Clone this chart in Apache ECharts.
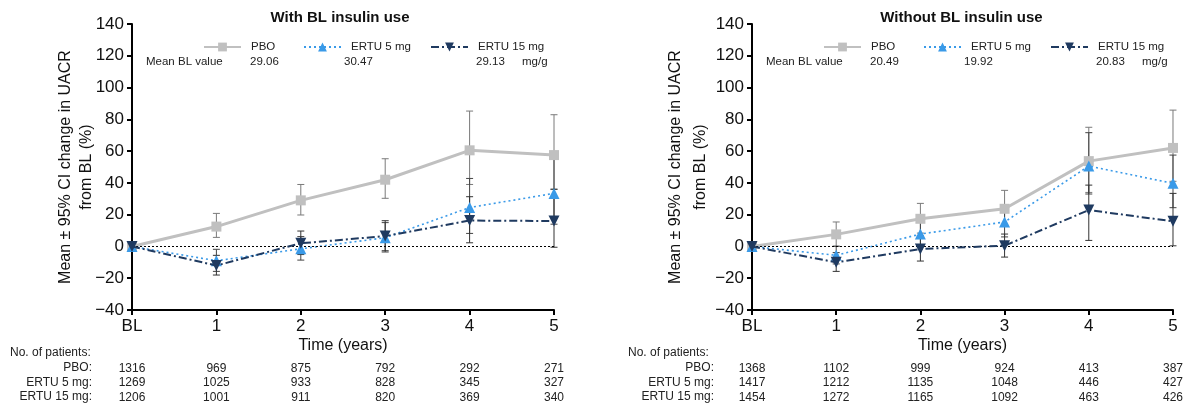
<!DOCTYPE html>
<html><head><meta charset="utf-8">
<script src="https://cdn.jsdelivr.net/npm/echarts@6/dist/echarts.min.js"></script>
<style>html,body{margin:0;padding:0;background:#fff}#c{width:1186px;height:406px}</style>
</head><body><div id="c"></div>
<script>
const years = ['BL','1','2','3','4','5'];
const seriesNames = ['PBO','ERTU 5 mg','ERTU 15 mg'];
const titles = ['With BL insulin use','Without BL insulin use'];
const meanBL = [['29.06','30.47','29.13'],['20.49','19.92','20.83']];
// With BL insulin use
const pboWith = [0, 12.5, 29, 42, 60.5, 57.5];
const pboWithLo = [0, 5.7, 19.8, 30.3, 39, 36];
const pboWithHi = [0, 20.8, 39, 55.2, 85.2, 82.9];
const e5With = [0, -9, -1.5, 5.5, 24.5, 33.4];
const e5WithLo = [0, -15.7, -8.6, -3.5, 8.2, 14];
const e5WithHi = [0, -1.8, 6.2, 15, 42.8, 55.5];
const e15With = [0, -12, 2, 6.5, 16.3, 16];
const e15WithLo = [0, -18, -5.1, -2.7, 2.3, -0.5];
const e15WithHi = [0, -5.6, 9.7, 16.2, 31.3, 36];
// Without BL insulin use
const pboWo = [0, 7.6, 17.4, 23.7, 53.7, 62];
const pboWoLo = [0, 0, 8.4, 13, 34, 41];
const pboWoHi = [0, 15.4, 27.1, 35.3, 75, 85.8];
const e5Wo = [0, -5.6, 7.8, 15.4, 50.6, 39.7];
const e5WoLo = [0, -11, -0.2, 6, 33, 24.4];
const e5WoHi = [0, 0.2, 16.4, 25.8, 71.6, 57.5];
const e15Wo = [0, -10, -1.6, 0.5, 22.9, 15.8];
const e15WoLo = [0, -15.7, -9.2, -6.7, 3.8, 0.4];
const e15WoHi = [0, -3.9, 6.6, 7.8, 38.6, 33.4];
// Number of patients
const nWithPbo = [1316, 969, 875, 792, 292, 271];
const nWithE5 = [1269, 1025, 933, 828, 345, 327];
const nWithE15 = [1206, 1001, 911, 820, 369, 340];
const nWoPbo = [1368, 1102, 999, 924, 413, 387];
const nWoE5 = [1417, 1212, 1135, 1048, 446, 427];
const nWoE15 = [1454, 1272, 1165, 1092, 463, 426];
const rowLabels = ['PBO:','ERTU 5 mg:','ERTU 15 mg:'];

const FONT = "'Liberation Sans', Arial, sans-serif";
const colors = ['#c0c0c0', '#3a9ae8', '#1f3a60'];
const barColors = ['#7a7a7a', '#444', '#333'];
const lineStyles = [
  {width: 3, type: 'solid'},
  {width: 1.6, type: [2, 3]},
  {width: 2, type: [8, 3, 2, 3]}
];
const symbols = ['rect', 'triangle', 'triangle'];
const symRot = [0, 0, 180];
const symSize = [10, 11, 11];

const panels = [
  {means: [pboWith, e5With, e15With], lo: [pboWithLo, e5WithLo, e15WithLo], hi: [pboWithHi, e5WithHi, e15WithHi], n: [nWithPbo, nWithE5, nWithE15], left: 132, width: 422, nameGap: 35, nameLH: 21},
  {means: [pboWo, e5Wo, e15Wo], lo: [pboWoLo, e5WoLo, e15WoLo], hi: [pboWoHi, e5WoHi, e15WoHi], n: [nWoPbo, nWoE5, nWoE15], left: 752, width: 425, nameGap: 39, nameLH: 25}
];

const grid = [], xAxis = [], yAxis = [], series = [], legend = [], graphic = [], title = [];
panels.forEach((p, g) => {
  const xi = g * 2;
  grid.push({left: p.left, top: 24, width: p.width, height: 286});
  title.push({text: titles[g], left: p.left + p.width / 2 - 8, top: 5, textAlign: 'center',
    textStyle: {fontFamily: FONT, fontSize: 15, fontWeight: 'bold', color: '#111'}});
  xAxis.push({type: 'category', gridIndex: g, data: years, boundaryGap: false,
    axisLine: {onZero: false, lineStyle: {color: '#000', width: 2}},
    axisTick: {show: true, length: 5, alignWithLabel: true, lineStyle: {color: '#000', width: 2}},
    axisLabel: {color: '#111', fontSize: 17, fontFamily: FONT, margin: 8, interval: 0},
    name: 'Time (years)', nameLocation: 'middle', nameGap: 28, nameMoveOverlap: false,
    nameTextStyle: {color: '#111', fontSize: 16, fontFamily: FONT}});
  // counts axis
  xAxis.push({type: 'category', gridIndex: g, data: years, boundaryGap: false, position: 'bottom', offset: 51,
    axisLine: {show: false, onZero: false}, axisTick: {show: false},
    axisLabel: {color: '#222', fontSize: 12, fontFamily: FONT, margin: 0, interval: 0, lineHeight: 14.5,
      formatter: (v, i) => p.n.map(arr => arr[i]).join('\n')}});
  yAxis.push({type: 'value', gridIndex: g, min: -40, max: 140, interval: 20,
    splitLine: {show: false},
    axisLine: {show: true, lineStyle: {color: '#000', width: 2}},
    axisTick: {show: true, length: 5, lineStyle: {color: '#000', width: 2}},
    axisLabel: {color: '#111', fontSize: 17, fontFamily: FONT, margin: 8,
      formatter: v => v < 0 ? '\u2212' + Math.abs(v) : String(v)},
    name: 'Mean \u00b1 95% CI change in UACR\nfrom BL (%)', nameLocation: 'middle', nameGap: p.nameGap,
    nameMoveOverlap: false,
    nameTextStyle: {color: '#111', fontSize: 16, fontFamily: FONT, lineHeight: p.nameLH}});
  // error bars
  p.means.forEach((m, s) => {
    const data = years.map((y, i) => [i, p.lo[s][i], p.hi[s][i]]).filter(d => d[1] !== d[2]);
    series.push({type: 'custom', xAxisIndex: xi, yAxisIndex: g, z: 2, silent: true,
      data: data, encode: {x: 0, y: [1, 2]},
      renderItem: (params, api) => {
        const x = api.value(0);
        const a = api.coord([x, api.value(1)]);
        const b = api.coord([x, api.value(2)]);
        const w = 3.5;
        const st = {stroke: barColors[s], lineWidth: 1};
        return {type: 'group', children: [
          {type: 'line', shape: {x1: a[0], y1: a[1], x2: b[0], y2: b[1]}, style: st},
          {type: 'line', shape: {x1: a[0] - w, y1: a[1], x2: a[0] + w, y2: a[1]}, style: st},
          {type: 'line', shape: {x1: b[0] - w, y1: b[1], x2: b[0] + w, y2: b[1]}, style: st}
        ]};
      }});
  });
  p.means.forEach((m, s) => {
    const ser = {type: 'line', name: seriesNames[s], xAxisIndex: xi, yAxisIndex: g, data: m, z: 3 + s,
      symbol: symbols[s], symbolSize: symSize[s], symbolRotate: symRot[s], showAllSymbol: true,
      itemStyle: {color: colors[s]}, lineStyle: Object.assign({color: colors[s]}, lineStyles[s])};
    if (s === 0) {
      ser.markLine = {silent: true, symbol: 'none', label: {show: false},
        lineStyle: {type: [2, 2], color: '#000', width: 1}, data: [{yAxis: 0}]};
    }
    series.push(ser);
  });
  // legends
  const legLefts = [p.left + 71, p.left + 171, p.left + 298];
  seriesNames.forEach((nm, s) => {
    legend.push({data: [nm], left: legLefts[s], top: 41, padding: 0, itemWidth: 37, itemHeight: 11,
      selectedMode: false, itemGap: 0,
      textStyle: {fontFamily: FONT, fontSize: 11.5, color: '#222', padding: [0, 0, 0, 5]}});
  });
  // Mean BL row
  const rowY = 56;
  graphic.push({type: 'text', left: p.left + 14, top: rowY, style: {text: 'Mean BL value', fontFamily: FONT, fontSize: 11.5, fill: '#222'}});
  [p.left + 118, p.left + 212, p.left + 344].forEach((x, s) => {
    graphic.push({type: 'text', left: x, top: rowY, style: {text: meanBL[g][s], fontFamily: FONT, fontSize: 11.5, fill: '#222'}});
  });
  graphic.push({type: 'text', left: p.left + 390, top: rowY, style: {text: 'mg/g', fontFamily: FONT, fontSize: 11.5, fill: '#222'}});
  // table labels
  const tabX = g === 0 ? 10 : 628;
  const labR = g === 0 ? 92 : 714;
  graphic.push({type: 'text', left: tabX, top: 347, style: {text: 'No. of patients:', fontFamily: FONT, fontSize: 12, fill: '#222'}});
  rowLabels.forEach((t, r) => {
    graphic.push({type: 'text', x: labR, y: 362 + r * 14.5, style: {text: t, fontFamily: FONT, fontSize: 12, fill: '#222', textAlign: 'right', textVerticalAlign: 'top'}});
  });
});

const chart = echarts.init(document.getElementById('c'), null, {renderer: 'canvas'});
chart.setOption({animation: false, backgroundColor: '#fff', title, grid, xAxis, yAxis, series, legend, graphic});
</script></body></html>
